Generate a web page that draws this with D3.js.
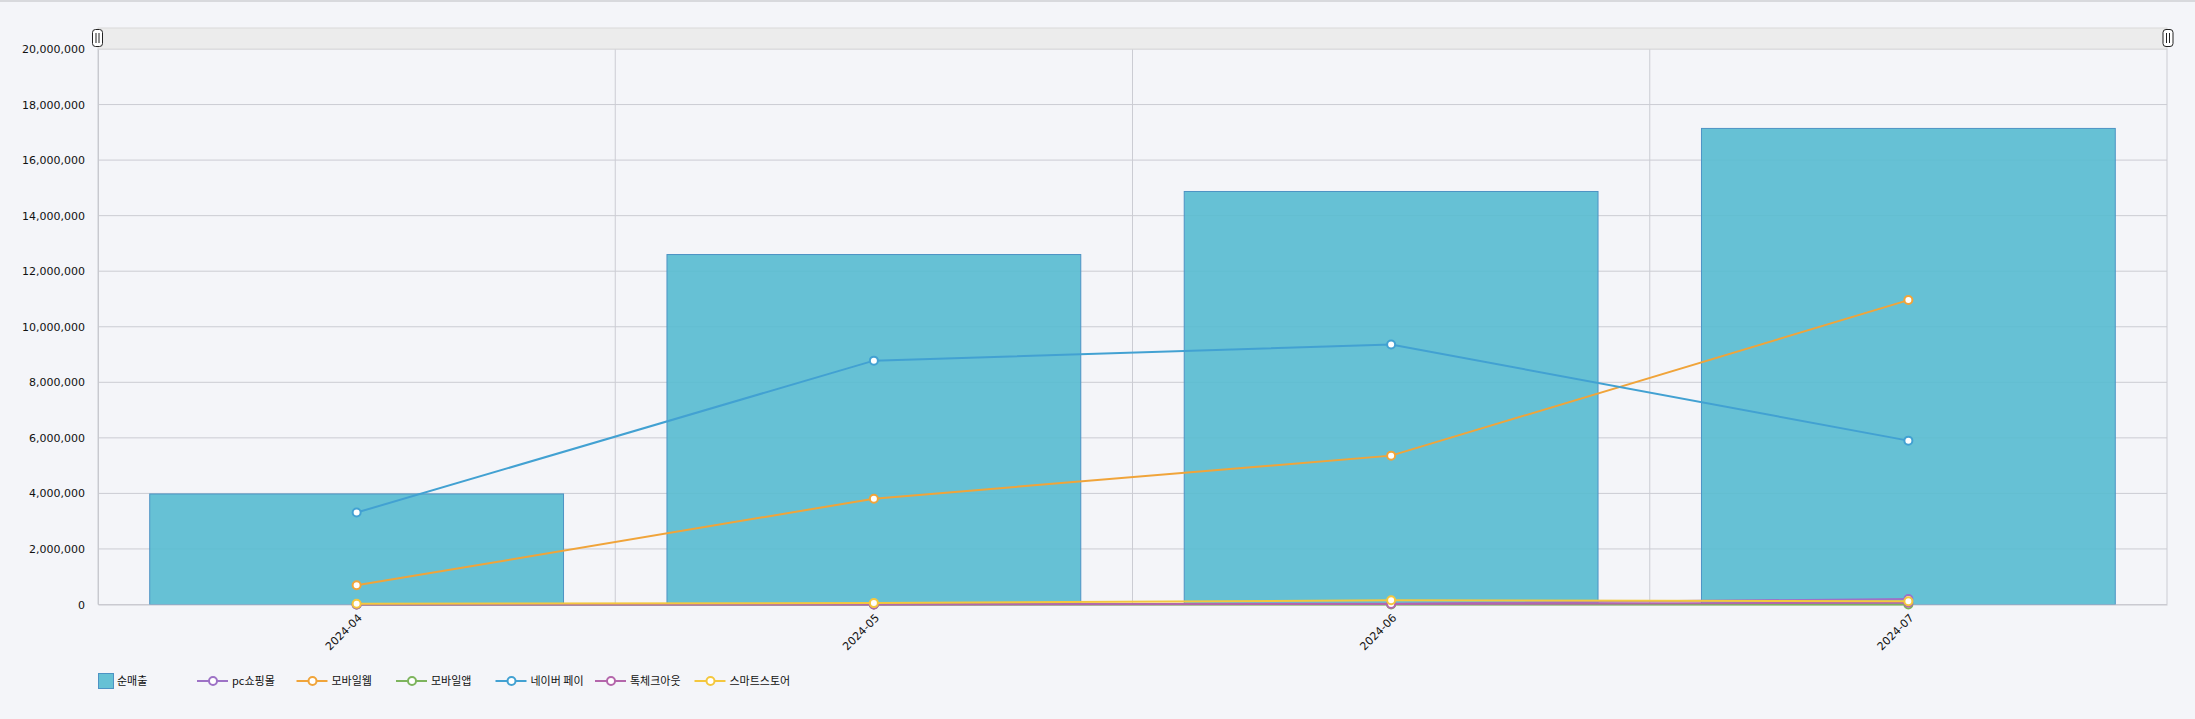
<!DOCTYPE html>
<html>
<head>
<meta charset="utf-8">
<script src="https://cdn.jsdelivr.net/npm/d3@7"></script>
<style>
  html, body { margin: 0; padding: 0; background: #f4f5f9; }
  svg { display: block; }
  .tick text { font-family: "DejaVu Sans", sans-serif; font-size: 11px; fill: #111; }
  .legend text { font-family: "Noto Sans CJK KR", sans-serif; font-size: 11px; fill: #111; }
</style>
</head>
<body>
<div id="chart"></div>
<script>
// months on the x axis
const months = ["2024-04", "2024-05", "2024-06", "2024-07"];

// bar series
const netSales = [3980000, 12600000, 14870000, 17140000];

// line series
const pcMall = [0, 0, 30000, 200000];
const mobileWeb = [690000, 3810000, 5360000, 10960000];
const mobileApp = [0, 0, 0, 0];
const naverPay = [3310000, 8780000, 9360000, 5900000];
const talkCheckout = [0, 0, 20000, 60000];
const smartStore = [30000, 50000, 150000, 120000];

const yTicks = [0, 2000000, 4000000, 6000000, 8000000, 10000000,
                12000000, 14000000, 16000000, 18000000, 20000000];

const lineSeries = [
    {name: "pc쇼핑몰", values: pcMall, color: "#9d72c6"},
    {name: "모바일웹", values: mobileWeb, color: "#f0a43a"},
    {name: "모바일앱", values: mobileApp, color: "#7db45d"},
    {name: "네이버 페이", values: naverPay, color: "#42a1d2"},
    {name: "톡체크아웃", values: talkCheckout, color: "#b466ab"},
    {name: "스마트스토어", values: smartStore, color: "#f4c73e"}
];

const W = 2195, H = 719;
const margin = {top: 49, right: 28, bottom: 114.5, left: 98};
const width = W - margin.left - margin.right;
const height = H - margin.top - margin.bottom;

const svg = d3.select("#chart").append("svg")
    .attr("width", W)
    .attr("height", H);

// top border of the page
svg.append("line")
    .attr("x1", 0).attr("x2", W)
    .attr("y1", 1).attr("y2", 1)
    .attr("stroke", "#d8d9dd")
    .attr("stroke-width", 2);

const g = svg.append("g")
    .attr("transform", "translate(" + margin.left + "," + margin.top + ")");

const x = d3.scaleBand()
    .domain(months)
    .range([0, width])
    .paddingInner(0.2)
    .paddingOuter(0.1);

const y = d3.scaleLinear()
    .domain([0, 20000000])
    .range([height, 0]);

// horizontal grid
g.append("g")
    .selectAll("line")
    .data(yTicks)
    .enter()
    .append("line")
    .attr("x1", 0).attr("x2", width)
    .attr("y1", d => y(d)).attr("y2", d => y(d))
    .attr("stroke", "#cbccd3")
    .attr("stroke-width", 1);

// vertical grid at band edges
const step = x.step();
const edges = d3.range(months.length + 1).map(i => i * step);
g.append("g")
    .selectAll("line")
    .data(edges)
    .enter()
    .append("line")
    .attr("x1", d => d).attr("x2", d => d)
    .attr("y1", 0).attr("y2", height)
    .attr("stroke", "#cbccd3")
    .attr("stroke-width", 1);

// bars
g.append("g")
    .selectAll("rect")
    .data(netSales)
    .enter()
    .append("rect")
    .attr("x", (d, i) => x(months[i]))
    .attr("y", d => y(d))
    .attr("width", x.bandwidth())
    .attr("height", d => height - y(d))
    .attr("fill", "#57bbd0")
    .attr("fill-opacity", 0.9)
    .attr("stroke", "#4d93c4")
    .attr("stroke-width", 1);

// y axis
const yAxis = g.append("g")
    .call(d3.axisLeft(y).tickValues(yTicks).tickFormat(d3.format(",")).tickSize(0).tickPadding(13));
yAxis.select(".domain").attr("stroke", "#c8c9cf");

// x axis
const xAxis = g.append("g")
    .attr("transform", "translate(0," + height + ")")
    .call(d3.axisBottom(x).tickSize(0).tickPadding(0));
xAxis.select(".domain").attr("stroke", "#c8c9cf");
xAxis.selectAll("text")
    .attr("text-anchor", "end")
    .attr("dy", "0")
    .attr("transform", "translate(6,14) rotate(-45)");

// lines
const cx = i => x(months[i]) + x.bandwidth() / 2;
const line = d3.line()
    .x((d, i) => cx(i))
    .y(d => y(d));

lineSeries.forEach(s => {
    const sg = g.append("g");
    sg.append("path")
        .datum(s.values)
        .attr("d", line)
        .attr("fill", "none")
        .attr("stroke", s.color)
        .attr("stroke-width", 2);
    sg.selectAll("circle")
        .data(s.values)
        .enter()
        .append("circle")
        .attr("cx", (d, i) => cx(i))
        .attr("cy", d => y(d))
        .attr("r", 4)
        .attr("fill", "#fff")
        .attr("stroke", s.color)
        .attr("stroke-width", 2);
});

// scrollbar on top
const sb = svg.append("g");
sb.append("rect")
    .attr("x", margin.left).attr("y", 28)
    .attr("width", width).attr("height", 21)
    .attr("fill", "#ececec")
    .attr("stroke", "#dadada");
[margin.left - 5.5, margin.left + width - 4].forEach(hx => {
    sb.append("rect")
        .attr("x", hx).attr("y", 29.5)
        .attr("width", 10).attr("height", 17)
        .attr("rx", 3)
        .attr("fill", "#fff")
        .attr("stroke", "#222")
        .attr("stroke-width", 1);
    sb.append("line")
        .attr("x1", hx + 3.5).attr("x2", hx + 3.5)
        .attr("y1", 33).attr("y2", 43)
        .attr("stroke", "#222");
    sb.append("line")
        .attr("x1", hx + 6.5).attr("x2", hx + 6.5)
        .attr("y1", 33).attr("y2", 43)
        .attr("stroke", "#222");
});

// legend
const legend = svg.append("g").attr("class", "legend");
const ly = 681;
legend.append("rect")
    .attr("x", 98.5).attr("y", 673.5)
    .attr("width", 15).attr("height", 15)
    .attr("fill", "#57bbd0")
    .attr("fill-opacity", 0.9)
    .attr("stroke", "#4d93c4");
legend.append("text")
    .attr("x", 117).attr("y", ly)
    .attr("dy", "0.35em")
    .text("순매출");

lineSeries.forEach((s, i) => {
    const lx = 197 + i * 99.5;
    const it = legend.append("g");
    it.append("line")
        .attr("x1", lx).attr("x2", lx + 31)
        .attr("y1", ly).attr("y2", ly)
        .attr("stroke", s.color)
        .attr("stroke-width", 2);
    it.append("circle")
        .attr("cx", lx + 16).attr("cy", ly)
        .attr("r", 4)
        .attr("fill", "#fff")
        .attr("stroke", s.color)
        .attr("stroke-width", 2);
    it.append("text")
        .attr("x", lx + 35).attr("y", ly)
        .attr("dy", "0.35em")
        .text(s.name);
});
</script>
</body>
</html>
